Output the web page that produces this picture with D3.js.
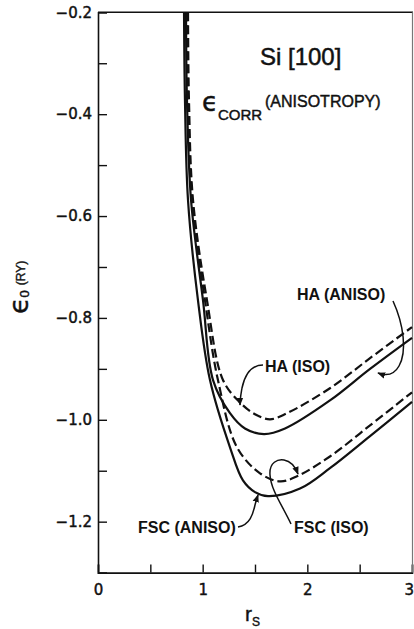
<!DOCTYPE html>
<html>
<head>
<meta charset="utf-8">
<script src="https://cdn.jsdelivr.net/npm/d3@7"></script>
<style>
  html, body { margin: 0; padding: 0; background: #fff; }
  svg { display: block; }
</style>
</head>
<body>
<script>
// Ground-state energy of Si [100] vs r_s, HA and FSC correlation, iso / aniso
const haIso = [
  [0.860, -0.200], [0.869, -0.372], [0.908, -0.569], [1.041, -0.765],
  [1.194, -0.922], [1.357, -0.966], [1.500, -0.989], [1.643, -0.999],
  [1.806, -0.987], [2.216, -0.938], [2.599, -0.879], [3.000, -0.818]
];
const haAniso = [
  [0.841, -0.200], [0.850, -0.372], [0.889, -0.569], [1.003, -0.765],
  [1.099, -0.922], [1.261, -0.987], [1.404, -1.017], [1.586, -1.028],
  [1.787, -1.017], [2.216, -0.962], [2.599, -0.900], [3.000, -0.839]
];
const fscIso = [
  [0.850, -0.200], [0.860, -0.372], [0.898, -0.569], [1.022, -0.765],
  [1.146, -0.922], [1.328, -1.054], [1.548, -1.105], [1.739, -1.121],
  [1.901, -1.111], [2.216, -1.072], [2.599, -1.011], [3.000, -0.946]
];
const fscAniso = [
  [0.822, -0.200], [0.831, -0.372], [0.860, -0.569], [0.955, -0.765],
  [1.070, -0.922], [1.261, -1.054], [1.385, -1.119], [1.500, -1.142],
  [1.624, -1.150], [1.930, -1.135], [2.216, -1.095], [2.599, -1.032],
  [3.000, -0.965]
];

const yTicks = [-1.2, -1.1, -1.0, -0.9, -0.8, -0.7, -0.6, -0.5, -0.4, -0.3, -0.2];
const yTickLabels = [-1.2, -1.0, -0.8, -0.6, -0.4, -0.2];
const xTicks = [0, 0.5, 1, 1.5, 2, 2.5, 3];
const xTickLabels = [0, 1, 2, 3];

const W = 414, H = 629;
const plotLeft = 98, plotRight = 412, plotTop = 12.3, plotBottom = 572.6;

const svg = d3.select("body").append("svg")
  .attr("width", W).attr("height", H);

const x = d3.scaleLinear().domain([0, 3]).range([plotLeft, plotRight]);
const y = d3.scaleLinear().domain([-1.3, -0.2]).range([plotBottom, plotTop]);

const ink = "#111";

// arrowhead for callouts
svg.append("defs").append("marker")
  .attr("id", "head")
  .attr("viewBox", "0 0 10 10")
  .attr("refX", 9).attr("refY", 5)
  .attr("markerUnits", "userSpaceOnUse")
  .attr("markerWidth", 8).attr("markerHeight", 8)
  .attr("orient", "auto")
  .append("path").attr("d", "M0,1 L10,5 L0,9 Z").attr("fill", ink);

// axes with inward ticks
const fmt = d3.format(".1f");
const yAxis = d3.axisLeft(y)
  .tickValues(yTicks)
  .tickSize(-9)
  .tickPadding(6)
  .tickFormat(d => yTickLabels.some(v => Math.abs(v - d) < 1e-9) ? fmt(d) : "");
const xAxis = d3.axisBottom(x)
  .tickValues(xTicks)
  .tickSize(-8)
  .tickPadding(12)
  .tickFormat(d => xTickLabels.includes(d) ? String(d) : "");

const gy = svg.append("g").attr("transform", `translate(${plotLeft},0)`).call(yAxis);
const gx = svg.append("g").attr("transform", `translate(0,${plotBottom})`).call(xAxis);

[gx, gy].forEach(g => {
  g.select(".domain").attr("stroke", ink).attr("stroke-width", 1.6);
  g.selectAll(".tick line").attr("stroke", ink).attr("stroke-width", 1.4);
  g.selectAll(".tick text")
    .attr("fill", ink)
    .attr("stroke", ink)
    .attr("stroke-width", 0.45)
    .style("font-family", "'DejaVu Sans', sans-serif")
    .style("font-size", "15px");
});
// last r_s label sits on the frame edge; keep it inside the page
gx.selectAll(".tick text").filter(d => d === 3)
  .attr("text-anchor", "end").attr("x", W - plotRight - 0.5);

// frame: top and right edges
svg.append("line")
  .attr("x1", plotLeft).attr("x2", plotRight + 1).attr("y1", plotTop).attr("y2", plotTop)
  .attr("stroke", ink).attr("stroke-width", 1.6);
svg.append("line")
  .attr("x1", plotRight + 0.5).attr("x2", plotRight + 0.5).attr("y1", plotTop).attr("y2", plotBottom)
  .attr("stroke", "#777").attr("stroke-width", 1.2);

// curves
const line = d3.line()
  .x(d => x(d[0])).y(d => y(d[1]))
  .curve(d3.curveCatmullRom.alpha(0.5));

const series = [
  { data: haIso, dash: "9,4" },
  { data: haAniso, dash: null },
  { data: fscIso, dash: "9,4" },
  { data: fscAniso, dash: null }
];
svg.append("g").selectAll("path").data(series).join("path")
  .attr("d", d => line(d.data))
  .attr("fill", "none")
  .attr("stroke", ink)
  .attr("stroke-width", 2.2)
  .attr("stroke-dasharray", d => d.dash);

// callout labels and arrows
const labelFont = "'Liberation Sans', Arial, sans-serif";
const callouts = [
  { text: "HA (ANISO)", tx: 297, ty: 300,
    path: "M393,301 C404,325 407,352 399,366 C394,375 386,376 378,373" },
  { text: "HA (ISO)", tx: 265, ty: 372,
    path: "M263,365 C252,365 245,374 242,388 C241,394 240,399 240,405" },
  { text: "FSC (ANISO)", tx: 138, ty: 533,
    path: "M238,527 C250,525 253,514 255,505 C256,501 257,498 258,495" },
  { text: "FSC (ISO)", tx: 294, ty: 533,
    path: "M291,524 C282,505 271,490 270,475 C269,462 278,459 284,460 C290,461 295,466 298,474" }
];
const cg = svg.append("g");
cg.selectAll("text").data(callouts).join("text")
  .attr("x", d => d.tx).attr("y", d => d.ty)
  .attr("fill", ink)
  .style("font-family", labelFont)
  .style("font-weight", "bold")
  .style("font-size", "16px")
  .text(d => d.text);
cg.selectAll("path").data(callouts).join("path")
  .attr("d", d => d.path)
  .attr("fill", "none")
  .attr("stroke", ink)
  .attr("stroke-width", 1.5)
  .attr("marker-end", "url(#head)");

// title block
svg.append("text")
  .attr("x", 260).attr("y", 65)
  .attr("fill", ink)
  .attr("stroke", ink).attr("stroke-width", 0.5)
  .style("font-family", labelFont)
  .style("font-size", "24px")
  .text("Si [100]");

const sub = svg.append("text").attr("fill", ink)
  .attr("stroke", ink).attr("stroke-width", 0.45)
  .style("font-family", labelFont);
sub.append("tspan").attr("x", 202).attr("y", 111)
  .style("font-family", "'DejaVu Sans', sans-serif").style("font-size", "26px").text("ϵ");
sub.append("tspan").attr("x", 218).attr("y", 120)
  .style("font-size", "15px").text("CORR");
sub.append("tspan").attr("x", 265).attr("y", 107)
  .style("font-size", "16px").text("(ANISOTROPY)");

// axis titles
const xl = svg.append("text").attr("fill", ink)
  .attr("stroke", ink).attr("stroke-width", 0.4)
  .style("font-family", labelFont);
xl.append("tspan").attr("x", 245).attr("y", 621).style("font-size", "21px").text("r");
xl.append("tspan").attr("x", 252).attr("y", 626).style("font-size", "12px").text("S");

const yl = svg.append("text")
  .attr("transform", "translate(28,314) rotate(-90)")
  .attr("fill", ink)
  .attr("stroke", ink).attr("stroke-width", 0.4)
  .style("font-family", labelFont);
yl.append("tspan").style("font-family", "'DejaVu Sans', sans-serif")
  .style("font-size", "27px").text("ϵ");
yl.append("tspan").attr("dy", 1).style("font-size", "13px").text("0");
yl.append("tspan").attr("dx", 5).attr("dy", -4).style("font-size", "12px").text("(RY)");
</script>
</body>
</html>
